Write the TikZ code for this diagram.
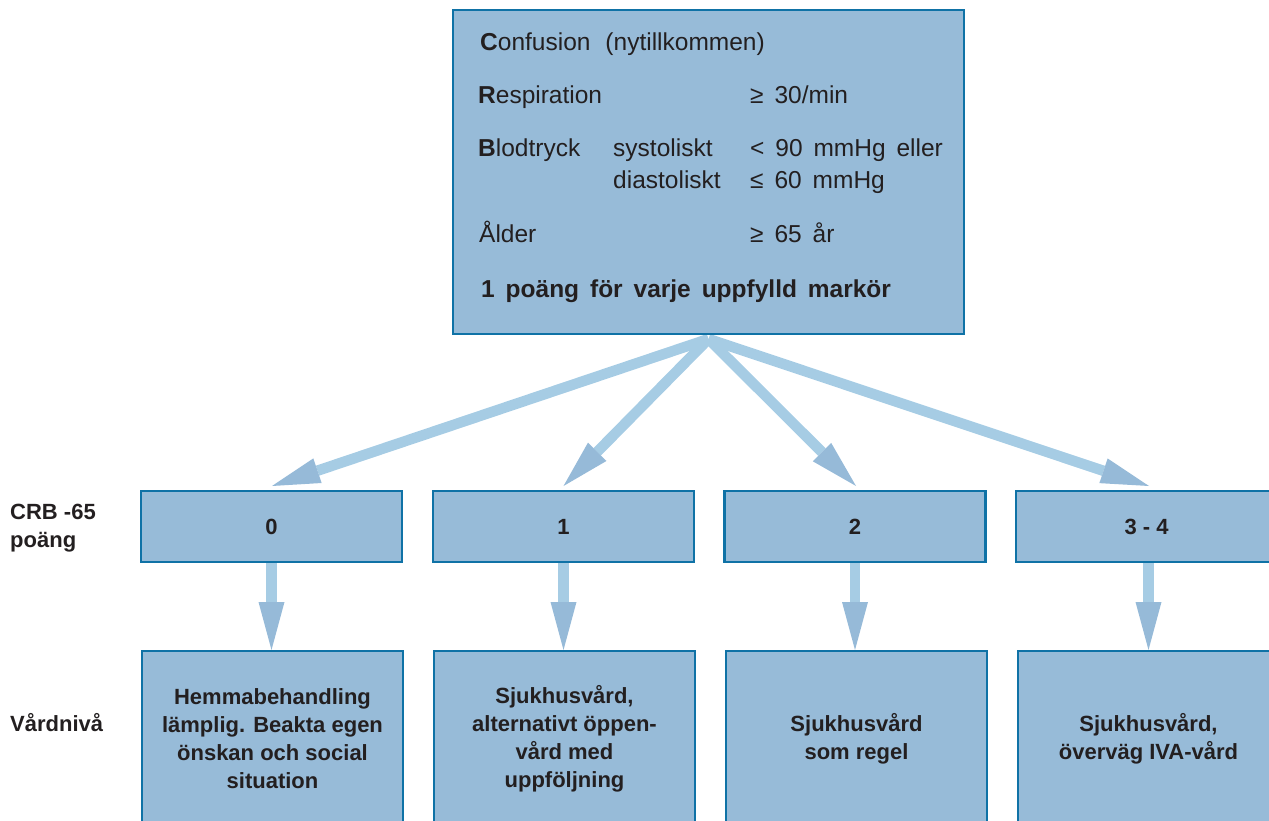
\documentclass[tikz,border=0pt]{standalone}
\usepackage{fontspec}
\setmainfont{Liberation Sans}
\newfontfamily\spacedfont[WordSpace=1.6]{Liberation Sans}
\usetikzlibrary{arrows.meta,calc,backgrounds}
\definecolor{boxfill}{HTML}{97BBD8}
\definecolor{boxline}{HTML}{0F72A6}
\definecolor{shaft}{HTML}{A6CCE4}
\definecolor{headc}{HTML}{96BAD8}
\definecolor{ink}{HTML}{231F20}
\begin{document}
\begin{tikzpicture}[x=1pt,y=-1pt,
 box/.style={draw=boxline, fill=boxfill, line width=2.4pt, inner sep=0pt, outer sep=0pt},
 txt/.style={text=ink, inner sep=0pt, anchor=base west, font=\spacedfont\fontsize{24.5}{29}\selectfont},
 txtb/.style={txt, font=\spacedfont\bfseries\fontsize{24.5}{29}\selectfont},
 lab/.style={text=ink, inner sep=0pt, font=\bfseries\fontsize{22}{28}\selectfont},
 midbox/.style={box, lab, minimum width=261pt, minimum height=71pt},
 lowbox/.style={box, lab, align=center, minimum width=261pt, minimum height=176pt},
 flow/.style={line width=10.5pt, draw=shaft, -{Triangle[length=48pt,width=26pt,line width=0pt,color=headc,fill=headc]}}
]
\useasboundingbox (0,0) rectangle (1269,821);

% top box
\node[box, minimum width=511pt, minimum height=324pt] (top) at (708.5,172) {};
\node[txt] (t1) at (480,51) {\textbf{C}onfusion \,(nytillkommen)};
\node[txt] (t2) at (478,104) {\textbf{R}espiration};
\node[txt] (t2v) at (750,104) {≥ 30/min};
\node[txt] (t3) at (478,157) {\textbf{B}lodtryck};
\node[txt] (t3s) at (613,157) {systoliskt};
\node[txt] (t3v) at (750,157) {< 90 mmHg eller};
\node[txt] (t4s) at (613,189) {diastoliskt};
\node[txt] (t4v) at (750,189) {≤ 60 mmHg};
\node[txt] (t5) at (479,243) {Ålder};
\node[txt] (t5v) at (750,243) {≥ 65 år};
\node[txtb] (t6) at (481,297) {1 poäng för varje uppfylld markör};

% side labels
\node[lab, anchor=base west] (crb1) at (10,519) {CRB -65};
\node[lab, anchor=base west] (crb2) at (10,547) {poäng};
\node[lab, anchor=base west] (vn) at (10,731) {Vårdnivå};

% middle row
\node[midbox] (m0) at (271.5,526.5) {0};
\node[midbox] (m1) at (563.5,526.5) {1};
\node[midbox] (m2) at (855,526.5) {2};
\node[midbox] (m3) at (1146.5,526.5) {3 - 4};

% bottom row
\node[lowbox] (b0) at (272.5,739) {Hemmabehandling\\lämplig. Beakta egen\\önskan och social\\situation};
\node[lowbox] (b1) at (564.5,739) {Sjukhusvård,\\alternativt öppen-\\vård med\\uppföljning};
\node[lowbox] (b2) at (856.5,739) {Sjukhusvård\\som regel};
\node[lowbox] (b3) at (1148.5,739) {Sjukhusvård,\\överväg IVA-vård};

% arrows
\begin{scope}[on background layer]
\coordinate (hub) at ($(top.south)+(0,5)$);
\draw[flow] (hub) -- ($(m0.north)+(0.5,-5)$);
\draw[flow] (hub) -- ($(m1.north)+(0,-5)$);
\draw[flow] (hub) -- ($(m2.north)+(1,-5)$);
\draw[flow] (hub) -- ($(m3.north)+(2.5,-5)$);
\draw[flow] (m0.south) -- ($(m0.south |- b0.north)+(0,-1)$);
\draw[flow] (m1.south) -- ($(m1.south |- b1.north)+(0,-1)$);
\draw[flow] (m2.south) -- ($(m2.south |- b2.north)+(0,-1)$);
\draw[flow] ($(m3.south)+(2,0)$) -- ($(m3.south |- b3.north)+(2,-1)$);
\end{scope}
\end{tikzpicture}
\end{document}
